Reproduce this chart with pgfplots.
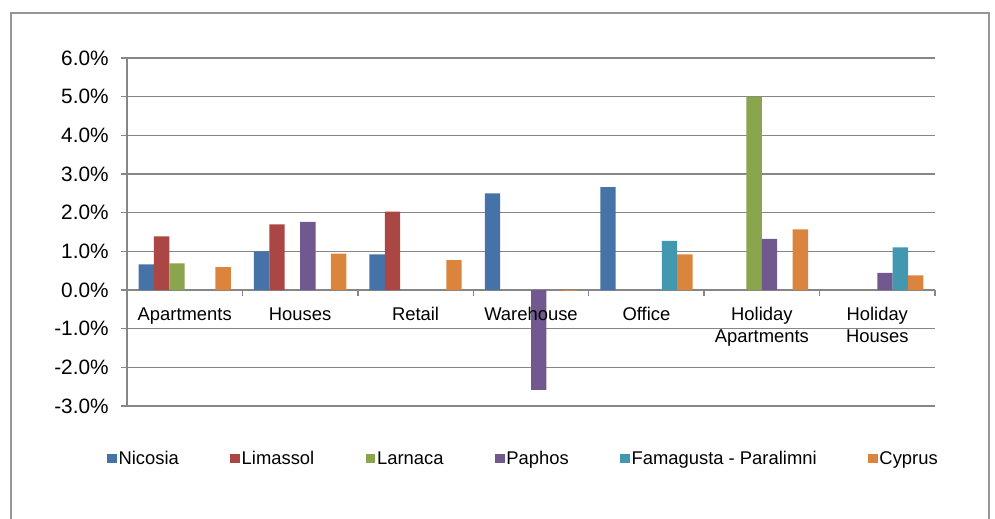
\documentclass[border=0pt]{standalone}
\usepackage{fontspec}
\setmainfont{Liberation Sans}
\usepackage{pgfplots}
\pgfplotsset{compat=1.18}

% Excel 2007 series colours
\definecolor{cNic}{RGB}{69,114,167}
\definecolor{cLim}{RGB}{170,70,67}
\definecolor{cLar}{RGB}{137,165,78}
\definecolor{cPap}{RGB}{113,88,143}
\definecolor{cFam}{RGB}{65,152,175}
\definecolor{cCyp}{RGB}{219,132,61}
\definecolor{cgrid}{RGB}{134,134,134}
\definecolor{cframe}{RGB}{150,150,150}

\begin{document}
\begin{tikzpicture}[font=\fontsize{9.2bp}{11bp}\selectfont,
    catlabel/.style={align=center, anchor=north, inner sep=0pt, yshift=-8.5bp}]
% 1px of the reference = 0.5bp; axis lower-left at (0,0)
\useasboundingbox (-63.5bp,-56.5bp) rectangle (434bp,203bp);
\draw[cframe, line width=0.75bp] (-58bp,-80bp) -- (-58bp,196.5bp) -- (431bp,196.5bp) -- (431bp,-80bp);

\begin{axis}[
    scale only axis,
    width=404bp, height=174bp,
    ybar,
    bar width=0.1333,
    xmin=-0.5, xmax=6.5,
    ymin=-3, ymax=6,
    enlargelimits=false,
    axis x line*=middle,
    axis y line*=left,
    axis line style={cgrid, line width=0.75bp},
    tick style={cgrid, line width=0.75bp},
    tick align=outside,
    major tick length=3bp,
    ytick={-3,-2,...,6},
    yticklabel={\pgfmathprintnumber[fixed, fixed zerofill, precision=1]{\tick}\%},
    /pgf/number format/assume math mode=true,
    yticklabel style={anchor=east, inner sep=0pt, xshift=-6bp,
        font=\fontsize{10.4bp}{12bp}\selectfont},
    ymajorgrids,
    major grid style={cgrid, line width=0.75bp},
    xtick={-0.5,0.5,...,6.5},
    xticklabels={},
    legend columns=6,
    legend style={at={(-0.0248,-0.1523)}, anchor=west, draw=none, fill=none,
        inner sep=0pt, nodes={inner sep=0.8bp, text height=0.72em, text depth=0.21em},
        /tikz/every even column/.append style={column sep=25bp}},
    legend image code/.code={\fill[#1, draw=none] (0bp,-2.25bp) rectangle (4.8bp,2.25bp);},
    legend cell align=left,
]
\addplot[fill=cNic, draw=none, bar shift=-0.3333] coordinates {(0,0.66) (1,1.00) (2,0.92) (3,2.50) (4,2.66)};
\addplot[fill=cLim, draw=none, bar shift=-0.2] coordinates {(0,1.39) (1,1.70) (2,2.03)};
\addplot[fill=cLar, draw=none, bar shift=-0.0667] coordinates {(0,0.69) (5,5.00)};
\addplot[fill=cPap, draw=none, bar shift=0.0667] coordinates {(1,1.76) (3,-2.58) (5,1.32) (6,0.44)};
\addplot[fill=cFam, draw=none, bar shift=0.2] coordinates {(4,1.27) (6,1.10)};
\addplot[fill=cCyp, draw=none, bar shift=0.3333] coordinates {(0,0.59) (1,0.94) (2,0.77) (3,-0.02) (4,0.92) (5,1.57) (6,0.38)};
\legend{Nicosia, Limassol, Larnaca, Paphos, Famagusta - Paralimni, Cyprus}

% category names, drawn after the bars so they sit on top (as in Excel)
\node[catlabel] at (axis cs:0,0) {Apartments};
\node[catlabel] at (axis cs:1,0) {Houses};
\node[catlabel] at (axis cs:2,0) {Retail};
\node[catlabel] at (axis cs:3,0) {Warehouse};
\node[catlabel] at (axis cs:4,0) {Office};
\node[catlabel] at (axis cs:5,0) {Holiday\\Apartments};
\node[catlabel] at (axis cs:6,0) {Holiday\\Houses};
\end{axis}
\end{tikzpicture}
\end{document}
